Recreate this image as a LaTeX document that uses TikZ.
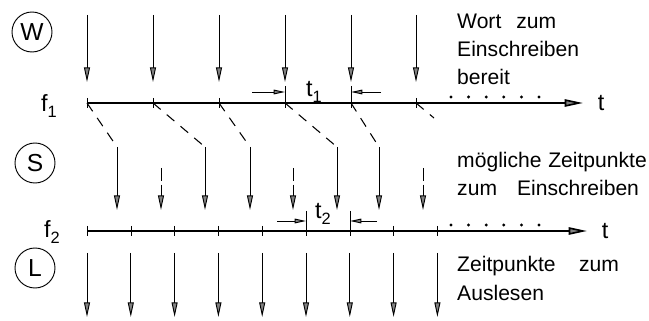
\documentclass[tikz,border=0pt]{standalone}
\usepackage{fontspec}
\setmainfont{Liberation Sans}
\usetikzlibrary{arrows.meta, positioning, calc}
\definecolor{tipgray}{RGB}{130,130,130}
\newcommand{\idx}[1]{\raisebox{-0.45ex}{\fontsize{14}{14}\selectfont #1}}

\tikzset{
  pulse/.style={line width=0.8pt, -{Triangle[length=4.4mm,width=1.8mm,fill=tipgray]}},
  slot/.style={pulse, dash pattern=on 4mm off 1mm},
  link/.style={line width=0.9pt, dash pattern=on 3mm off 2.4mm},
  timeline/.style={line width=1.4pt, -{Triangle[length=5.5mm,width=2.2mm,fill=tipgray]}},
  gap/.style={line width=0.8pt, -{Triangle[length=3.4mm,width=1.4mm,fill=tipgray]}},
  signal/.style={draw, circle, line width=0.8pt, minimum size=12mm, inner sep=0pt, font=\fontsize{21}{21}\selectfont},
  % base of a multi-line node is the baseline of its last line
  remark/.style={anchor=base west, align=left, inner sep=0pt, font=\fontsize{18}{24}\selectfont},
  lbl/.style={inner sep=0pt, font=\fontsize{20}{20}\selectfont},
}

\begin{document}
\begin{tikzpicture}[x=0.3mm, y=-0.3mm]
  \useasboundingbox (0,0) rectangle (649,321);
  \node[signal] (W) at (32,32) {W};
  \node[signal] (S) at (35,163) {S};
  \node[signal] (L) at (35,268) {L};

  % clock f1: words ready for writing
  \node[lbl, anchor=base west] (f1) at (41,112) {f\idx{1}};
  \draw[timeline] (87,103) coordinate (f1a) -- (583,103) coordinate (f1b);
  \node[lbl, right=4.4mm of f1b] (t1axis) {t};
  \foreach \x [count=\i] in {87,153,219,285,351,416} {
    \draw[pulse] (\x,15) coordinate (wt\i) -- (\x,82) coordinate (wh\i);
    \draw (\x,98) -- (\x,108);
    \coordinate (w\i) at (\x,103);
  }
  \foreach \k in {0,...,5} \fill (451+17.6*\k,97) circle (1.4pt);

  % spacing t1
  \draw (285,86) -- (w4); \draw (351,86) -- (w5);
  \coordinate (d1) at (252,92); \coordinate (d2) at (381,92);
  \draw[gap] (d1) -- (285,92); \draw[gap] (d2) -- (351,92);
  \node[lbl, anchor=base west] (t1) at (306,97) {t\idx{1}};

  % possible write instants
  \foreach \x [count=\i] in {117,205,250,337,379}
    \draw[pulse] (\x,147) coordinate (s\i) -- (\x,210);
  \foreach \x in {161,293,423}
    \draw[slot] (\x,168) -- (\x,210);
  \foreach \i in {1,...,5} \draw[link] (w\i) -- (s\i);
  \coordinate (s6) at (434,118);
  \draw[link] (w6) -- (s6);

  % clock f2: read instants
  \node[lbl, anchor=base west] (f2) at (44,238) {f\idx{2}};
  \draw[timeline] (87,231) coordinate (f2a) -- (587,231) coordinate (f2b);
  \node[lbl, right=4.4mm of f2b] (t2axis) {t};
  \foreach \k in {0,...,8} {
    \draw (87+43.8*\k,226) -- (87+43.8*\k,236);
    \draw[pulse] (87+43.8*\k,253) -- (87+43.8*\k,317);
  }
  \foreach \k in {0,...,5} \fill (451+17.6*\k,225) circle (1.4pt);

  % spacing t2
  \draw (306,211) -- (306,231); \draw (350,211) -- (350,231);
  \coordinate (e1) at (277,221); \coordinate (e2) at (377,221);
  \draw[gap] (e1) -- (306,221); \draw[gap] (e2) -- (350,221);
  \node[lbl, anchor=base west] (t2) at (315,219) {t\idx{2}};

  \node[remark] (ready) at (457,85) {Wort\hspace{4.5mm}zum\\Einschreiben\\bereit};
  \node[remark] (slots) at (457,196) {mögliche\hspace{2mm}Zeitpunkte\\zum\hspace{6mm}Einschreiben};
  \node[remark] (reads) at (457,300) {Zeitpunkte\hspace{7mm}zum\\Auslesen};
\end{tikzpicture}
\end{document}
